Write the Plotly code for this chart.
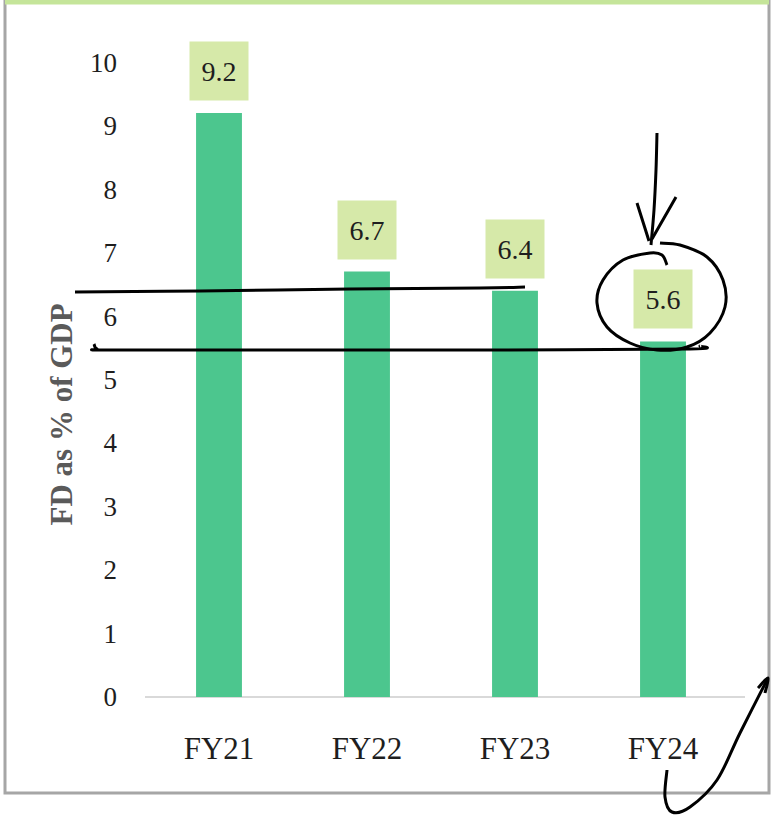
import plotly.graph_objects as go

categories = ["FY21", "FY22", "FY23", "FY24"]
fd_values = [9.2, 6.7, 6.4, 5.6]
y_ticks = list(range(0, 11))

W, H = 782, 815
L, R, T, B = 145, 45, 24, 118
YMAX = 10.6

def px(x):
    return (x - L) / (W - L - R)

def py(y):
    return (H - B - y) / (H - B - T)

def smooth_path(pts):
    p = [(px(x), py(y)) for x, y in pts]
    s = f"M {p[0][0]:.5f},{p[0][1]:.5f}"
    for i in range(len(p) - 1):
        p0 = p[i - 1] if i > 0 else p[i]
        p1 = p[i]
        p2 = p[i + 1]
        p3 = p[i + 2] if i + 2 < len(p) else p[i + 1]
        c1 = (p1[0] + (p2[0] - p0[0]) / 6, p1[1] + (p2[1] - p0[1]) / 6)
        c2 = (p2[0] - (p3[0] - p1[0]) / 6, p2[1] - (p3[1] - p1[1]) / 6)
        s += f" C {c1[0]:.5f},{c1[1]:.5f} {c2[0]:.5f},{c2[1]:.5f} {p2[0]:.5f},{p2[1]:.5f}"
    return s

fig = go.Figure()
fig.add_trace(go.Bar(
    x=categories, y=fd_values, width=0.31,
    marker=dict(color="#4cc68e", line=dict(width=0)),
    hoverinfo="skip",
))

for c, v in zip(categories, fd_values):
    fig.add_annotation(
        x=c, y=v, xref="x", yref="y", text=f"{v:.1f}",
        showarrow=False, yanchor="bottom", yshift=12,
        width=58, height=58, bgcolor="#d6e9a9", borderpad=0,
        font=dict(family="Liberation Serif", size=28, color="#1e1e1e"),
    )

fig.add_annotation(
    x=px(42), y=py(415), xref="paper", yref="paper", text="<b>FD as % of GDP</b>",
    textangle=-90, showarrow=False,
    font=dict(family="Liberation Serif", size=31, color="#5a5a5a"),
)

shapes = []
# frame
shapes.append(dict(type="rect", xref="paper", yref="paper",
                   x0=px(5), x1=px(769), y0=py(793), y1=py(-10),
                   line=dict(color="#a6a6a6", width=3), fillcolor="rgba(0,0,0,0)", layer="below"))
shapes.append(dict(type="line", xref="paper", yref="paper",
                   x0=px(5), x1=px(769), y0=py(2), y1=py(2),
                   line=dict(color="#c5e59a", width=5)))
# baseline
shapes.append(dict(type="line", xref="paper", yref="paper",
                   x0=px(145), x1=px(745), y0=py(697), y1=py(697),
                   line=dict(color="#d9d9d9", width=2), layer="below"))

ink = dict(color="#000000", width=3)
strokes = [
    [(75, 292), (200, 291), (350, 289), (480, 288), (525, 287)],
    [(94, 344), (97, 349), (110, 350), (300, 350), (500, 350), (690, 349), (700, 346)],
    [(667, 265), (662, 255), (650, 253), (623, 260), (603, 280), (597, 303), (607, 327),
     (630, 343), (657, 350), (687, 347), (710, 333), (725, 307), (723, 280), (707, 257),
     (680, 245), (660, 243)],
    [(657, 133), (656, 170), (654, 210), (651, 245)],
    [(637, 203), (643, 222), (649, 241)],
    [(676, 197), (664, 218), (652, 239)],
    [(667, 770), (665, 797), (672, 812), (690, 807), (717, 780), (740, 733), (768, 678)],
    [(758, 688), (768, 678), (765, 693)],
]
for st in strokes:
    shapes.append(dict(type="path", xref="paper", yref="paper", path=smooth_path(st),
                       line=ink, fillcolor="rgba(0,0,0,0)"))

fig.update_layout(
    width=W, height=H,
    margin=dict(l=L, r=R, t=T, b=B, autoexpand=False),
    paper_bgcolor="white", plot_bgcolor="white",
    showlegend=False, bargap=0.69,
    shapes=shapes,
    xaxis=dict(showgrid=False, showline=False, zeroline=False, ticks="",
               tickfont=dict(family="Liberation Serif", size=31, color="#1e1e1e"),
               ticklabelstandoff=30, range=[-0.5, 3.5], fixedrange=True),
    yaxis=dict(range=[0, YMAX], tickvals=y_ticks, showgrid=False, showline=False,
               zeroline=False, ticks="",
               tickfont=dict(family="Liberation Serif", size=27, color="#1e1e1e"),
               ticklabelstandoff=27, fixedrange=True),
)

fig.write_html("out.html", config={"displayModeBar": False},
               post_script="document.body.style.margin='0px';")
